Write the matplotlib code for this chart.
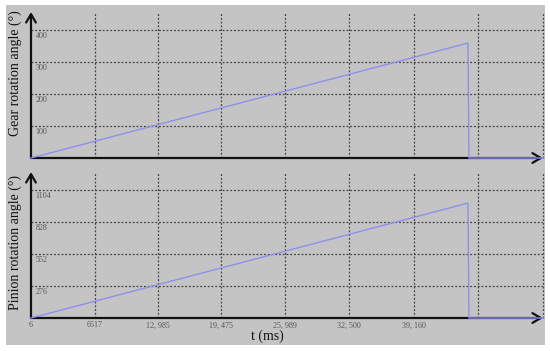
import matplotlib
matplotlib.use("Agg")
import matplotlib.pyplot as plt
import matplotlib.transforms as mtransforms
from matplotlib.patches import Rectangle

# ---- data ----
t_ms = [6, 44680, 44780, 52350]
gear_deg = [0, 359, 0, 0]
pinion_deg = [0, 991, 0, 0]

x_ticks = [6, 6517, 12985, 19475, 25989, 32500, 39160]
x_ticklabels = ["6", "6517", "12, 985", "19, 475", "25, 989", "32, 500", "39, 160"]
x_extra_grid = [45703, 52300]

gear_ticks = [100, 200, 300, 400]
gear_ticklabels = ["100", "200", "300", "400"]
pinion_ticks = [276, 552, 828, 1104]
pinion_ticklabels = ["276", "552", "828", "1104"]

W, H = 550, 351
fig = plt.figure(figsize=(W / 100, H / 100), dpi=100, facecolor="white")

BG = "#c4c4c4"
fig.patches.append(Rectangle((6 / W, 1 - 345 / H), (545 - 6) / W, (345 - 5) / H,
                             transform=fig.transFigure, facecolor=BG,
                             edgecolor="none", zorder=-10))

serif = ["Liberation Serif", "DejaVu Serif"]
GRID = dict(color="#444444", linewidth=0.9, linestyle=(0, (1.5, 1.5)))
LINE_C = "#8f8ff0"

def px_axes(x0, y_bottom, x1, y_top):
    ax = fig.add_axes([x0 / W, 1 - y_bottom / H, (x1 - x0) / W, (y_bottom - y_top) / H])
    ax.set_zorder(2)
    return ax

def setup(ax, ymax, yt, ytl, show_x_labels):
    ax.set_facecolor("none")
    ax.patch.set_alpha(0)
    ax.set_xlim(6, 52350)
    ax.set_ylim(0, ymax)
    for s in ax.spines.values():
        s.set_visible(False)
    for xv in x_ticks[1:] + x_extra_grid:
        ax.axvline(xv, zorder=1, clip_on=False, **GRID)
    for yv in yt:
        ax.axhline(yv, zorder=1, **GRID)
    # y tick labels inside the axes, just below each gridline
    tr = mtransforms.blended_transform_factory(ax.transAxes, ax.transData)
    for yv, lab in zip(yt, ytl):
        ax.text(0.009, yv - ymax * 0.012, lab, transform=tr, ha="left", va="top",
                fontsize=5.8, color="#555555", family=serif)
    ax.set_yticks([])
    if show_x_labels:
        ax.set_xticks(x_ticks)
        ax.set_xticklabels(x_ticklabels, fontsize=5.8, color="#555555", family=serif)
        ax.tick_params(axis="x", length=0, pad=2.5)
    else:
        ax.set_xticks([])
    # arrow axes
    ax.annotate("", xy=(1.0, 0), xytext=(0, 0), xycoords="axes fraction",
                arrowprops=dict(arrowstyle="->,head_length=0.6,head_width=0.35",
                                color="#111111", lw=1.6, shrinkA=0, shrinkB=0),
                zorder=2)
    ax.annotate("", xy=(0, 1.0), xytext=(0, 0), xycoords="axes fraction",
                arrowprops=dict(arrowstyle="->,head_length=0.6,head_width=0.35",
                                color="#111111", lw=1.6, shrinkA=0, shrinkB=0),
                zorder=2)

ax1 = px_axes(31, 158, 543, 12)
setup(ax1, 456, gear_ticks, gear_ticklabels, False)
ax1.plot(t_ms, gear_deg, color=LINE_C, lw=1.0, zorder=5, clip_on=False)

ax2 = px_axes(31, 318, 543, 172)
setup(ax2, 1259, pinion_ticks, pinion_ticklabels, True)
ax2.plot(t_ms, pinion_deg, color=LINE_C, lw=1.0, zorder=5, clip_on=False)

fig.text(15 / W, 1 - 73 / H, "Gear rotation angle (°)", rotation=90, ha="center",
         va="center", fontsize=10, color="#111111", family=serif)
fig.text(15 / W, 1 - 243 / H, "Pinion rotation angle (°)", rotation=90, ha="center",
         va="center", fontsize=10, color="#111111", family=serif)
fig.text(267 / W, 1 - 336 / H, "t (ms)", ha="center", va="center",
         fontsize=10, color="#111111", family=serif)

fig.savefig("out.png", dpi=100, facecolor="white")
